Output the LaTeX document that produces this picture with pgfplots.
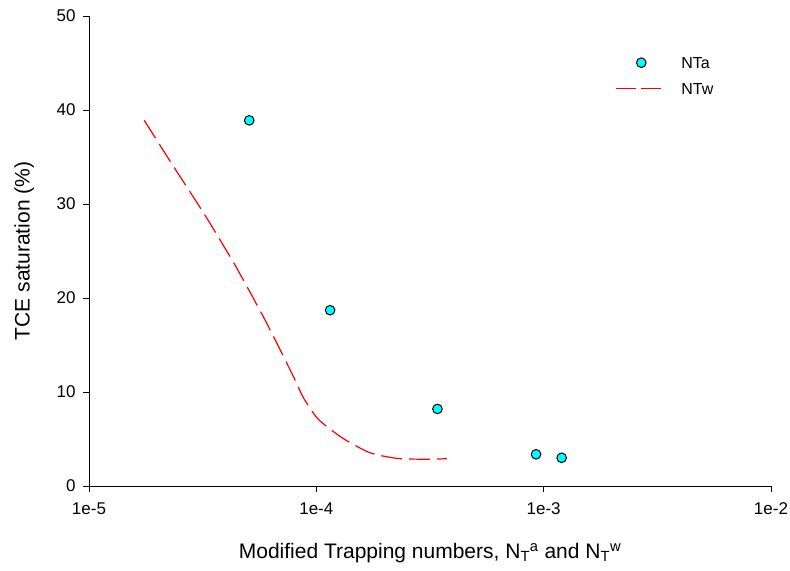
\documentclass[border=0pt]{standalone}
\usepackage{pgfplots}
\pgfplotsset{compat=1.18}
\usepackage{fontspec}
\setmainfont{Liberation Sans}

\definecolor{ntacyan}{RGB}{0,255,255}

% legend images: a single marker, and a two-dash line sample, both 45bp wide
\pgfplotsset{
  markerlegend/.style={legend image code/.code={%
    \path[draw=none, fill=none] (0bp,0bp) rectangle (45bp,0.1bp);
    \draw[##1] plot coordinates {(25.5bp,0bp)};}},
  dashlegend/.style={legend image code/.code={%
    \draw[##1, dash pattern=on 20bp off 5bp] (0bp,0bp) -- (45bp,0bp);}},
}

% measured values: trapping number vs. TCE saturation
\pgfplotstableread{
x        y
5.07e-5  38.9
1.15e-4  18.7
3.41e-4  8.2
9.26e-4  3.37
1.20e-3  3.0
}\ntadata

\pgfplotstableread{
x        y
1.75e-5  38.9
2.31e-5  34.3
3.24e-5  28.8
4.39e-5  23.5
5.85e-5  18.0
6.70e-5  15.2
8.06e-5  11.3
8.77e-5  9.4
1.02e-4  7.1
1.31e-4  5.07
1.72e-4  3.54
2.26e-4  2.94
2.96e-4  2.85
3.75e-4  2.9
}\ntwdata

\begin{document}
\begin{tikzpicture}
\begin{axis}[
  scale only axis,
  width=682bp, height=470bp,
  xmode=log,
  xmin=1e-5, xmax=1e-2,
  ymin=0, ymax=50,
  xtick={1e-5,1e-4,1e-3,1e-2},
  xticklabels={1e-5,1e-4,1e-3,1e-2},
  minor xtick={},
  ytick={0,10,20,30,40,50},
  axis x line*=bottom,
  axis y line*=left,
  axis line style={black, line width=0.9bp, -},
  tick style={black, line width=0.9bp},
  tick align=outside,
  major tick length=6bp,
  minor tick length=0pt,
  /pgf/number format/assume math mode=true,
  tick label style={font=\fontsize{17bp}{20bp}\selectfont},
  xticklabel style={yshift=-7bp},
  yticklabel style={xshift=-4bp},
  xlabel={Modified Trapping numbers, N\textsubscript{T}\textsuperscript{a} and N\textsubscript{T}\textsuperscript{w}},
  ylabel={TCE saturation (\%)},
  xlabel style={font=\fontsize{21bp}{25bp}\selectfont,
    at={(axis description cs:0.5,-0.143)}, anchor=center},
  ylabel style={font=\fontsize{21bp}{25bp}\selectfont,
    at={(axis description cs:-0.095,0.5)}, anchor=center},
  clip=false,
  legend style={
    draw=none, fill=none, inner sep=0pt,
    at={(axis description cs:0.7713,0.9133)}, anchor=north west,
    font=\fontsize{16bp}{19bp}\selectfont,
    nodes={inner sep=0pt, text height=11.5bp, text depth=0bp},
    column sep=20bp,
    row sep=14.5bp,
  },
  legend cell align=left,
]
\addplot[only marks, mark=*, mark size=4.8bp,
  mark options={fill=ntacyan, draw=black, line width=1bp}, markerlegend]
  table[x=x,y=y] {\ntadata};
\addlegendentry{NTa}
\addplot[red, line width=1.2bp, smooth, tension=0.4,
  dash pattern=on 21bp off 7bp, dashlegend]
  table[x=x,y=y] {\ntwdata};
\addlegendentry{NTw}
\end{axis}
\pgfresetboundingbox
\path (-89bp,-85bp) rectangle (701bp,486bp);
\end{tikzpicture}
\end{document}
